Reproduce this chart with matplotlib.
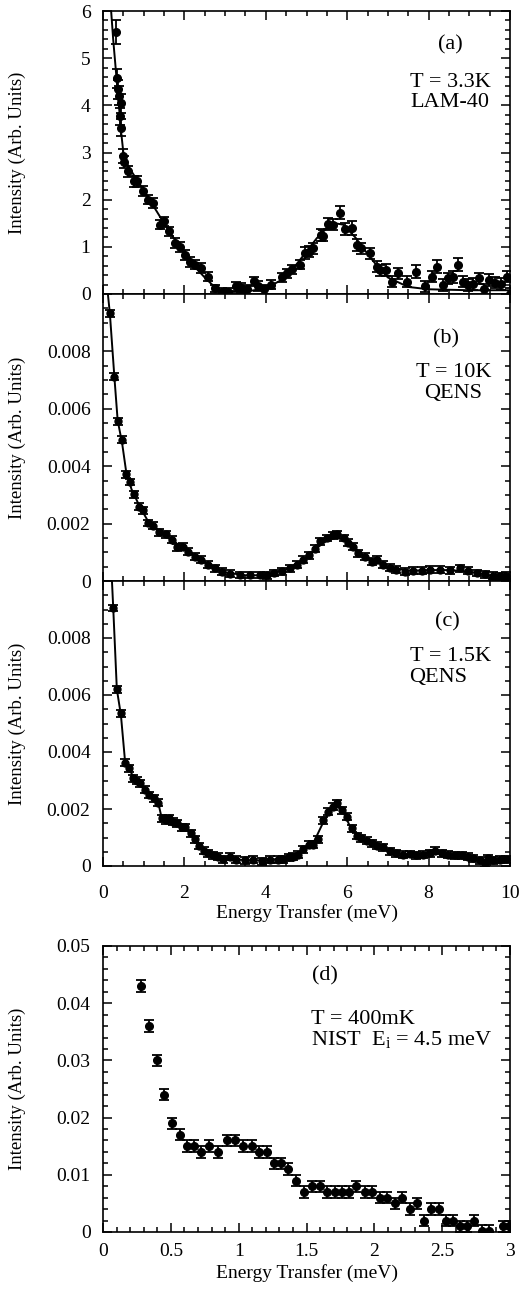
import numpy as np
import matplotlib
matplotlib.use("Agg")
import matplotlib.pyplot as plt
from matplotlib.ticker import MultipleLocator, FuncFormatter

plt.rcParams['font.family'] = ['Liberation Serif', 'DejaVu Serif']
plt.rcParams['mathtext.fontset'] = 'custom'
plt.rcParams['mathtext.rm'] = 'Liberation Serif'
plt.rcParams['mathtext.it'] = 'Liberation Serif:italic'

# (a) T = 3.3K, LAM-40
e_a = [0.32, 0.35, 0.38, 0.40, 0.44, 0.42, 0.44, 0.48, 0.51, 0.62, 0.75, 0.83, 0.99, 1.11,
       1.24, 1.40, 1.50, 1.63, 1.77, 1.89, 2.01, 2.14, 2.26, 2.42, 2.59, 2.75, 2.92, 3.08,
       3.28, 3.40, 3.53, 3.71, 3.80, 3.96, 4.14, 4.39, 4.51, 4.64, 4.84, 4.96, 5.05, 5.17,
       5.35, 5.40, 5.54, 5.66, 5.82, 5.95, 6.11, 6.25, 6.35, 6.56, 6.72, 6.80, 6.95, 7.09,
       7.26, 7.46, 7.70, 7.91, 8.08, 8.21, 8.36, 8.47, 8.60, 8.73, 8.85, 8.98, 9.10, 9.25,
       9.35, 9.48, 9.64, 9.77, 9.93, 10.0]
i_a = [5.55, 4.57, 4.34, 4.20, 4.04, 3.77, 3.53, 2.92, 2.80, 2.60, 2.39, 2.39, 2.18, 2.00,
       1.93, 1.47, 1.54, 1.33, 1.08, 1.00, 0.83, 0.68, 0.62, 0.55, 0.37, 0.12, 0.05, 0.05,
       0.16, 0.13, 0.10, 0.27, 0.17, 0.10, 0.20, 0.35, 0.44, 0.52, 0.62, 0.87, 0.90, 0.97,
       1.25, 1.24, 1.49, 1.47, 1.72, 1.38, 1.40, 1.04, 0.97, 0.86, 0.58, 0.50, 0.51, 0.26,
       0.44, 0.26, 0.47, 0.16, 0.37, 0.58, 0.19, 0.33, 0.36, 0.62, 0.26, 0.19, 0.21, 0.33,
       0.10, 0.30, 0.24, 0.21, 0.37, 0.00]
err_a = [0.25, 0.2, 0.2, 0.2, 0.2, 0.18, 0.18, 0.15, 0.12, 0.12, 0.12, 0.12, 0.1, 0.1,
         0.1, 0.1, 0.1, 0.1, 0.1, 0.1, 0.1, 0.1, 0.1, 0.1, 0.1, 0.08, 0.08, 0.08,
         0.1, 0.1, 0.1, 0.1, 0.1, 0.1, 0.1, 0.1, 0.1, 0.1, 0.1, 0.12, 0.12, 0.12,
         0.12, 0.12, 0.12, 0.12, 0.14, 0.12, 0.14, 0.12, 0.12, 0.12, 0.12, 0.12, 0.12, 0.12,
         0.12, 0.12, 0.14, 0.12, 0.12, 0.14, 0.12, 0.12, 0.12, 0.14, 0.12, 0.12, 0.12, 0.12,
         0.12, 0.12, 0.12, 0.12, 0.12, 0.12]
fit_e_a = [0.20, 0.25, 0.30, 0.35, 0.40, 0.45, 0.50, 0.60, 0.70, 0.85, 1.0, 1.25, 1.5, 1.75,
           2.0, 2.25, 2.5, 2.8, 3.0, 3.5, 4.0, 4.5, 5.0, 5.25, 5.5, 5.7, 5.9, 6.2, 6.5,
           6.75, 7.0, 7.5, 8.0, 9.0, 10.0]
fit_i_a = [6.0, 5.4, 4.9, 4.4, 3.9, 3.4, 3.0, 2.75, 2.6, 2.4, 2.2, 1.85, 1.5, 1.17,
           0.85, 0.58, 0.35, 0.1, 0.04, 0.05, 0.12, 0.35, 0.9, 1.18, 1.4, 1.5, 1.47, 1.2,
           0.85, 0.58, 0.35, 0.15, 0.1, 0.08, 0.08]

# (b) T = 10K, QENS
e_b = [0.17, 0.28, 0.36, 0.47, 0.57, 0.66, 0.77, 0.88, 0.98, 1.10, 1.24, 1.38, 1.54, 1.69,
       1.81, 1.96, 2.10, 2.26, 2.42, 2.59, 2.75, 2.92, 3.12, 3.37, 3.61, 3.86, 4.02, 4.19,
       4.39, 4.60, 4.76, 4.92, 5.05, 5.21, 5.33, 5.50, 5.66, 5.74, 5.91, 6.03, 6.15, 6.27,
       6.44, 6.60, 6.72, 6.88, 7.05, 7.21, 7.42, 7.62, 7.83, 8.03, 8.28, 8.53, 8.77, 8.98,
       9.18, 9.38, 9.59, 9.75, 9.90]
i_b = [0.00933, 0.00711, 0.00556, 0.00492, 0.00372, 0.00345, 0.00302, 0.00259, 0.00247,
       0.00202, 0.00193, 0.00170, 0.00163, 0.00144, 0.00118, 0.00120, 0.00102, 0.00085,
       0.00074, 0.00056, 0.00044, 0.00033, 0.00025, 0.00021, 0.00021, 0.00021, 0.00020,
       0.00028, 0.00034, 0.00044, 0.00056, 0.00074, 0.00090, 0.00112, 0.00138, 0.00150,
       0.00159, 0.00163, 0.00150, 0.00133, 0.00120, 0.00097, 0.00085, 0.00067, 0.00074,
       0.00056, 0.00047, 0.00040, 0.00033, 0.00036, 0.00036, 0.00040, 0.00040, 0.00038,
       0.00044, 0.00036, 0.00028, 0.00024, 0.00018, 0.00017, 0.00018]
err_b = 0.00012
fit_e_b = [0.12, 0.17, 0.28, 0.36, 0.47, 0.57, 0.70, 0.90, 1.1, 1.4, 1.7, 2.0, 2.3, 2.6,
           3.0, 3.5, 4.0, 4.5, 5.0, 5.3, 5.5, 5.7, 5.9, 6.1, 6.4, 6.8, 7.2, 7.6, 8.0, 8.5,
           9.0, 9.5, 9.9]
fit_i_b = [0.0100, 0.0093, 0.0071, 0.0056, 0.0048, 0.0038, 0.0032, 0.0026, 0.0021, 0.0017,
           0.0014, 0.00115, 0.00085, 0.00058, 0.0003, 0.0002, 0.0002, 0.0004, 0.0008,
           0.0012, 0.0014, 0.0015, 0.00145, 0.0012, 0.00088, 0.0006, 0.00042, 0.00036,
           0.00038, 0.00038, 0.00033, 0.0002, 0.00018]

# (c) T = 1.5K, QENS
e_c = [0.25, 0.34, 0.44, 0.54, 0.64, 0.73, 0.83, 0.92, 1.03, 1.14, 1.25, 1.36, 1.44, 1.54,
       1.63, 1.72, 1.82, 1.93, 2.02, 2.15, 2.26, 2.36, 2.47, 2.58, 2.70, 2.83, 2.95, 3.12,
       3.28, 3.49, 3.69, 3.90, 4.10, 4.31, 4.43, 4.56, 4.68, 4.80, 4.92, 5.05, 5.17, 5.29,
       5.41, 5.54, 5.66, 5.76, 5.86, 5.99, 6.11, 6.23, 6.35, 6.48, 6.60, 6.72, 6.89, 7.05,
       7.21, 7.38, 7.54, 7.70, 7.87, 8.03, 8.15, 8.32, 8.48, 8.64, 8.81, 8.97, 9.09, 9.26,
       9.38, 9.46, 9.59, 9.75, 9.90]
i_c = [0.00905, 0.00620, 0.00536, 0.00362, 0.00343, 0.00308, 0.00300, 0.00290, 0.00267,
       0.00249, 0.00238, 0.00222, 0.00167, 0.00161, 0.00167, 0.00156, 0.00150, 0.00136,
       0.00136, 0.00115, 0.00094, 0.00070, 0.00054, 0.00045, 0.00037, 0.00033, 0.00024,
       0.00033, 0.00022, 0.00020, 0.00022, 0.00016, 0.00022, 0.00022, 0.00024, 0.00030,
       0.00033, 0.00039, 0.00058, 0.00074, 0.00074, 0.00094, 0.00161, 0.00190, 0.00208,
       0.00220, 0.00196, 0.00173, 0.00132, 0.00105, 0.00097, 0.00089, 0.00080, 0.00071,
       0.00066, 0.00051, 0.00045, 0.00039, 0.00042, 0.00037, 0.00039, 0.00045, 0.00053,
       0.00045, 0.00039, 0.00037, 0.00037, 0.00033, 0.00027, 0.00020, 0.00010, 0.00027,
       0.00020, 0.00022, 0.00024]
err_c = 0.00012
fit_e_c = [0.22, 0.25, 0.34, 0.44, 0.54, 0.64, 0.80, 1.0, 1.2, 1.36, 1.44, 1.6, 1.9, 2.1,
           2.4, 2.7, 3.0, 3.5, 4.0, 4.5, 4.9, 5.2, 5.4, 5.6, 5.75, 5.9, 6.1, 6.3, 6.7, 7.0,
           7.5, 8.1, 8.6, 9.0, 9.4, 9.9]
fit_i_c = [0.0100, 0.0091, 0.0062, 0.0053, 0.0037, 0.0034, 0.0030, 0.0027, 0.0024, 0.0022,
           0.0017, 0.00163, 0.0014, 0.0012, 0.00065, 0.00037, 0.00028, 0.0002, 0.0002,
           0.00028, 0.00055, 0.0009, 0.0015, 0.0020, 0.0021, 0.0019, 0.0013, 0.0010,
           0.00072, 0.00052, 0.0004, 0.00048, 0.00038, 0.00032, 0.00018, 0.00024]

# (d) T = 400mK, NIST
e_d = [0.279, 0.338, 0.397, 0.453, 0.512, 0.564, 0.618, 0.672, 0.723, 0.784, 0.846, 0.912,
       0.973, 1.034, 1.096, 1.150, 1.206, 1.260, 1.311, 1.365, 1.422, 1.480, 1.540, 1.598,
       1.654, 1.708, 1.765, 1.814, 1.868, 1.929, 1.985, 2.039, 2.093, 2.150, 2.206, 2.260,
       2.314, 2.363, 2.419, 2.475, 2.525, 2.578, 2.632, 2.684, 2.738, 2.792, 2.848, 2.946,
       2.995]
i_d = [0.043, 0.036, 0.030, 0.024, 0.019, 0.017, 0.015, 0.015, 0.014, 0.015, 0.014, 0.016,
       0.016, 0.015, 0.015, 0.014, 0.014, 0.012, 0.012, 0.011, 0.009, 0.007, 0.008, 0.008,
       0.007, 0.007, 0.007, 0.007, 0.008, 0.007, 0.007, 0.006, 0.006, 0.005, 0.006, 0.004,
       0.005, 0.002, 0.004, 0.004, 0.002, 0.002, 0.001, 0.001, 0.002, 0.0002, 0.0002, 0.001,
       0.001]
err_d = 0.001

fig = plt.figure(figsize=(5.21, 12.89), dpi=100)
L, W = 103 / 521, 407 / 521
ax_a = fig.add_axes([L, 1 - 294 / 1289, W, 283 / 1289])
ax_b = fig.add_axes([L, 1 - 581 / 1289, W, 287 / 1289])
ax_c = fig.add_axes([L, 1 - 866 / 1289, W, 285 / 1289])
ax_d = fig.add_axes([L, 1 - 1232 / 1289, W, 286 / 1289])

fmt = FuncFormatter(lambda v, p: '%g' % round(v, 6))
# stacked panels: the top value is left unlabelled
fmt_top = FuncFormatter(lambda v, p: '' if v > 0.0099 else '%g' % round(v, 6))


def style(ax, xmaj, xmin, ymaj, ymin, xpad):
    ax.xaxis.set_major_locator(MultipleLocator(xmaj))
    ax.xaxis.set_minor_locator(MultipleLocator(xmin))
    ax.yaxis.set_major_locator(MultipleLocator(ymaj))
    ax.yaxis.set_minor_locator(MultipleLocator(ymin))
    ax.xaxis.set_major_formatter(fmt)
    ax.yaxis.set_major_formatter(fmt)
    ax.tick_params(which='both', direction='in', top=True, right=True, labelsize=14, width=1.1)
    ax.tick_params(which='major', length=6.5)
    ax.tick_params(which='minor', length=3.5)
    ax.tick_params(axis='y', pad=9)
    ax.tick_params(axis='x', pad=xpad)
    for s in ax.spines.values():
        s.set_linewidth(1.2)
    ax.set_ylabel('Intensity (Arb. Units)', fontsize=13.5)
    ax.yaxis.set_label_coords(-0.19, 0.5)


ekw = dict(fmt='o', color='black', ecolor='black', elinewidth=1.3, capsize=3.5, capthick=1.3)

ax_a.plot(fit_e_a, fit_i_a, color='black', lw=1.4)
ax_a.errorbar(e_a, i_a, yerr=err_a, ms=5.5, **ekw)
ax_a.set_xlim(0, 10)
ax_a.set_ylim(0, 6)
style(ax_a, 2, 0.5, 1, 0.2, 14)
ax_a.tick_params(axis='x', labelbottom=False)
ax_a.text(0.853, 0.88, '(a)', transform=ax_a.transAxes, ha='center', va='center', fontsize=16)
ax_a.text(0.853, 0.749, 'T = 3.3K', transform=ax_a.transAxes, ha='center', va='center', fontsize=16)
ax_a.text(0.853, 0.676, 'LAM-40', transform=ax_a.transAxes, ha='center', va='center', fontsize=16)

ax_b.plot(fit_e_b, fit_i_b, color='black', lw=1.4)
ax_b.errorbar(e_b, i_b, yerr=err_b, ms=5, **ekw)
ax_b.set_xlim(0, 10)
ax_b.set_ylim(0, 0.01)
style(ax_b, 2, 0.5, 0.002, 0.0005, 14)
ax_b.yaxis.set_major_formatter(fmt_top)
ax_b.tick_params(axis='x', labelbottom=False)
ax_b.text(0.842, 0.842, '(b)', transform=ax_b.transAxes, ha='center', va='center', fontsize=16)
ax_b.text(0.862, 0.726, 'T = 10K', transform=ax_b.transAxes, ha='center', va='center', fontsize=16)
ax_b.text(0.86, 0.652, 'QENS', transform=ax_b.transAxes, ha='center', va='center', fontsize=16)

ax_c.plot(fit_e_c, fit_i_c, color='black', lw=1.4)
ax_c.errorbar(e_c, i_c, yerr=err_c, ms=5, **ekw)
ax_c.set_xlim(0, 10)
ax_c.set_ylim(0, 0.01)
style(ax_c, 2, 0.5, 0.002, 0.0005, 14)
ax_c.yaxis.set_major_formatter(fmt_top)
ax_c.set_xlabel('Energy Transfer (meV)', fontsize=14, labelpad=1)
ax_c.text(0.847, 0.857, '(c)', transform=ax_c.transAxes, ha='center', va='center', fontsize=16)
ax_c.text(0.853, 0.734, 'T = 1.5K', transform=ax_c.transAxes, ha='center', va='center', fontsize=16)
ax_c.text(0.753, 0.662, 'QENS', transform=ax_c.transAxes, ha='left', va='center', fontsize=16)

ax_d.errorbar(e_d, i_d, yerr=err_d, ms=5.5, **ekw)
ax_d.set_xlim(0, 3)
ax_d.set_ylim(0, 0.05)
style(ax_d, 0.5, 0.1, 0.01, 0.002, 8)
ax_d.set_xlabel('Energy Transfer (meV)', fontsize=14, labelpad=3)
ax_d.text(0.545, 0.896, '(d)', transform=ax_d.transAxes, ha='center', va='center', fontsize=16)
ax_d.text(0.51, 0.744, 'T = 400mK', transform=ax_d.transAxes, ha='left', va='center', fontsize=16)
ax_d.text(0.51, 0.674, r'NIST  E$_{\mathrm{i}}$ = 4.5 meV', transform=ax_d.transAxes,
          ha='left', va='center', fontsize=16)

fig.savefig('out.png', dpi=100)
